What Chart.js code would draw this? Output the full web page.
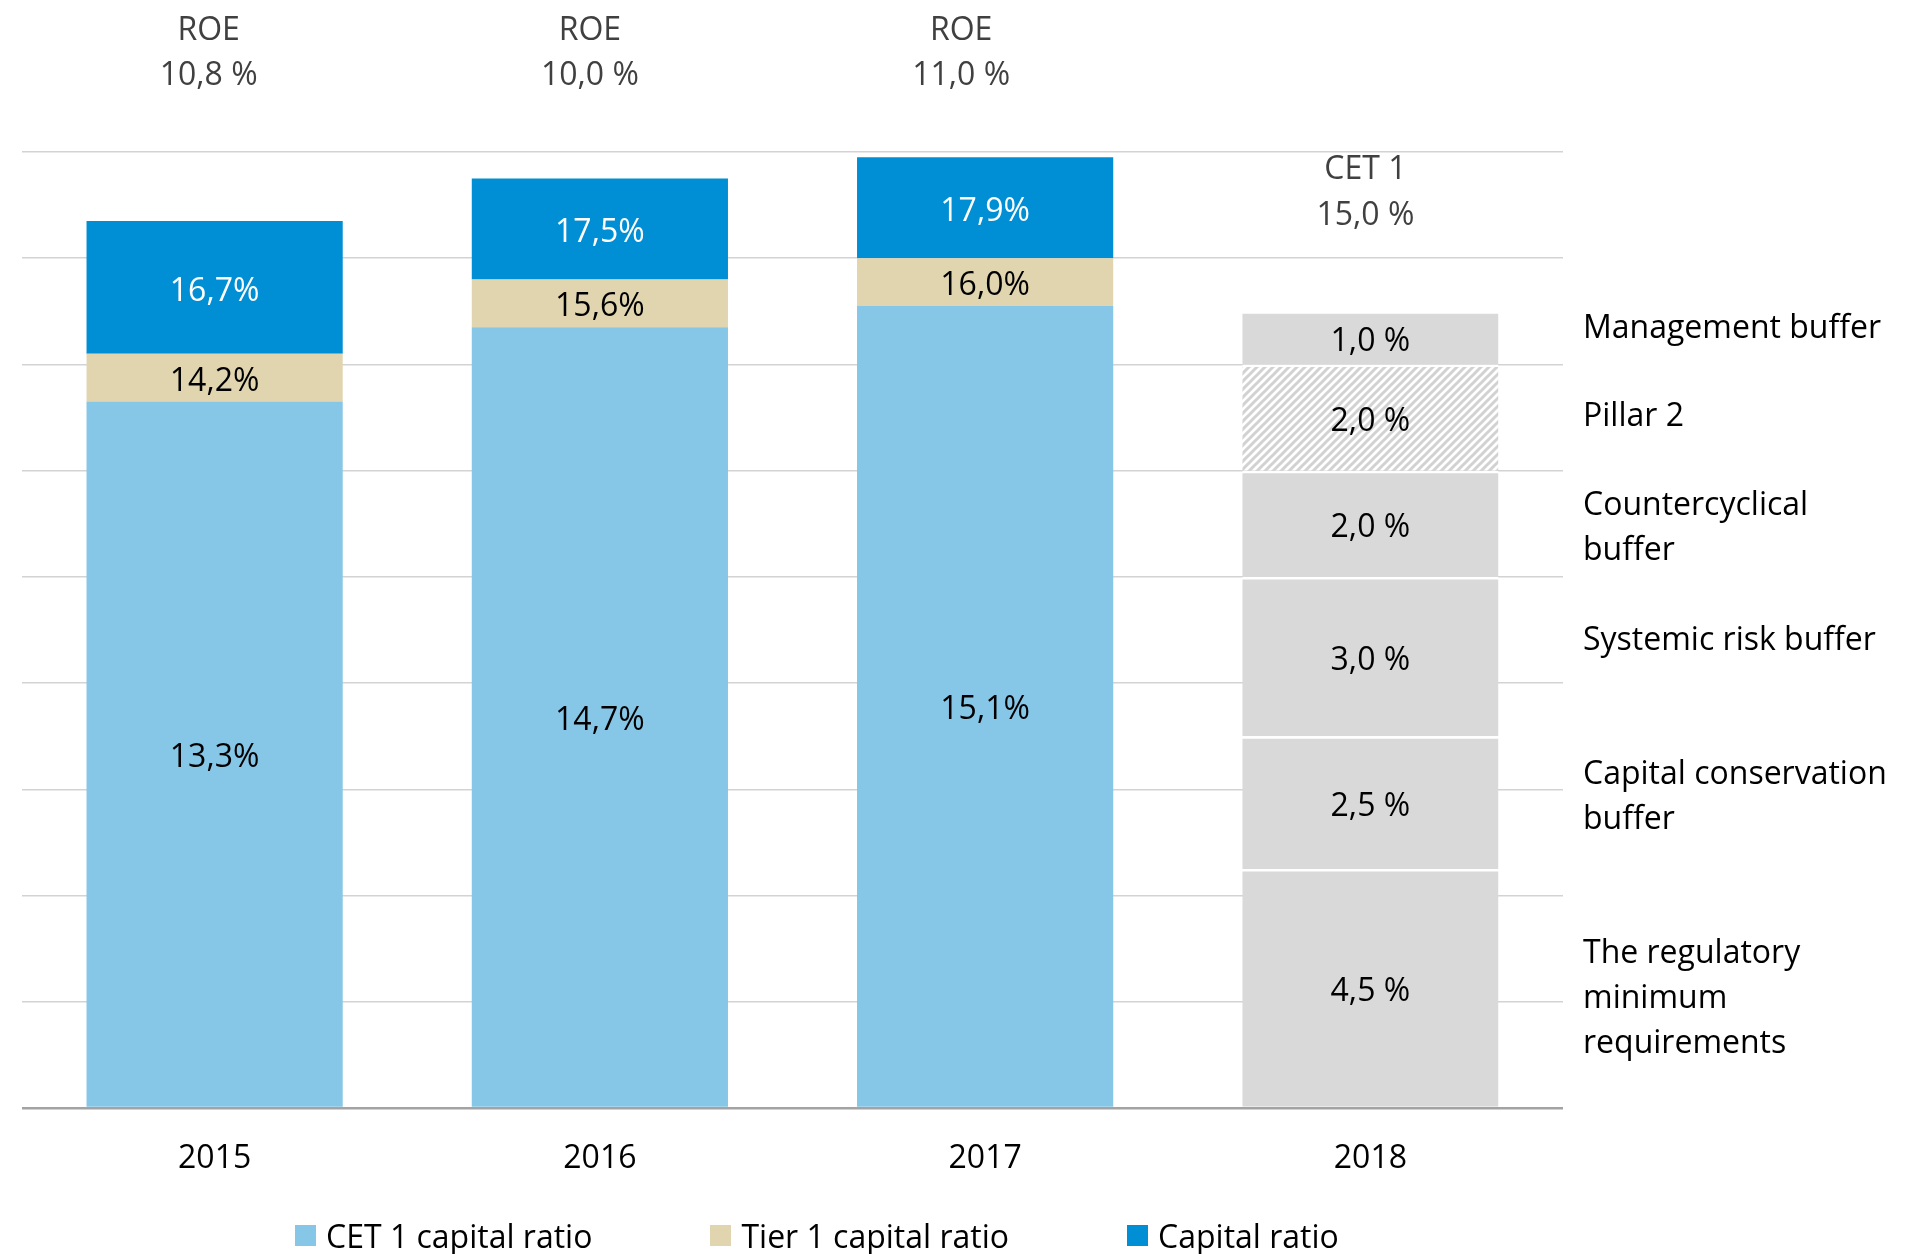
<!DOCTYPE html>
<html>
<head>
<meta charset="utf-8">
<script src="https://cdn.jsdelivr.net/npm/chart.js@4.4.1/dist/chart.umd.min.js"></script>
<style>
    body { margin: 0; background: #fff; }
    #wrap { position: relative; width: 1919px; height: 1254px; }
    #legend {
        position: absolute; left: 295px; top: 1214px;
        display: flex; gap: 118px;
        font-family: "Open Sans", sans-serif; font-size: 32px; color: #000;
    }
    .legend-item { display: flex; align-items: center; white-space: nowrap; }
    .legend-box { width: 21px; height: 21px; margin-right: 10px; }
</style>
</head>
<body>
<div id="wrap">
    <canvas id="chart" width="1919" height="1254"></canvas>
    <div id="legend"></div>
</div>
<script>
// 데이터
const years = ['2015', '2016', '2017', '2018'];
const cet1Ratio = [13.3, 14.7, 15.1, null];
const tier1Ratio = [14.2, 15.6, 16.0, null];
const capitalRatio = [16.7, 17.5, 17.9, null];
const roe = [10.8, 10.0, 11.0];
const cet1Target2018 = 15.0;

// 2018 요구 자본 (아래에서 위로)
const requirementValues = [4.5, 2.5, 3.0, 2.0, 2.0, 1.0];
const requirementNames = [
    ['The regulatory', 'minimum', 'requirements'],
    ['Capital conservation', 'buffer'],
    ['Systemic risk buffer'],
    ['Countercyclical', 'buffer'],
    ['Pillar 2'],
    ['Management buffer']
];
const hatchedRequirement = 'Pillar 2';

const yMax = 18;
const yStep = 2;

// 배치 보정값 (px)
const requirementLabelNudge = [7, -9, -20, 1, -5, -13];
const roeNudgeX = [-6, -10, -24];
const TEXT_DY = 4;

const FONT = '"Open Sans", sans-serif';
const COLORS = {
    cet1: '#86C6E6',
    tier1: '#E1D5B0',
    capital: '#008FD4',
    requirement: '#D9D9D9'
};

function fmt(v, space) {
    return v.toFixed(1).replace('.', ',') + (space ? ' %' : '%');
}

function makeHatch(ctx) {
    const c = document.createElement('canvas');
    c.width = 8;
    c.height = 8;
    const g = c.getContext('2d');
    g.fillStyle = '#fff';
    g.fillRect(0, 0, 8, 8);
    g.strokeStyle = '#D2D2D2';
    g.lineWidth = 3;
    g.beginPath();
    g.moveTo(-2, 10); g.lineTo(10, -2);
    g.moveTo(-2, 2); g.lineTo(2, -2);
    g.moveTo(6, 10); g.lineTo(10, 6);
    g.stroke();
    return ctx.createPattern(c, 'repeat');
}

const canvas = document.getElementById('chart');
const ctx = canvas.getContext('2d');
const hatch = makeHatch(ctx);

// 누적 막대 구간 계산
const tier1Part = tier1Ratio.map((v, i) => v == null ? null : +(v - cet1Ratio[i]).toFixed(1));
const capitalPart = capitalRatio.map((v, i) => v == null ? null : +(v - tier1Ratio[i]).toFixed(1));

const datasets = [
    { label: 'CET 1 capital ratio', data: cet1Ratio, shown: cet1Ratio, backgroundColor: COLORS.cet1, textColor: '#000', legend: true },
    { label: 'Tier 1 capital ratio', data: tier1Part, shown: tier1Ratio, backgroundColor: COLORS.tier1, textColor: '#000', legend: true },
    { label: 'Capital ratio', data: capitalPart, shown: capitalRatio, backgroundColor: COLORS.capital, textColor: '#fff', legend: true }
];

requirementValues.forEach((v, k) => {
    const data = years.map((y, i) => i === years.length - 1 ? v : null);
    datasets.push({
        label: requirementNames[k].join(' '),
        names: requirementNames[k],
        nudge: requirementLabelNudge[k],
        data: data,
        shown: data,
        spaced: true,
        backgroundColor: requirementNames[k][0] === hatchedRequirement ? hatch : COLORS.requirement,
        borderColor: '#fff',
        borderWidth: { top: 2.5, bottom: 0, left: 0, right: 0 },
        borderSkipped: false,
        textColor: '#000'
    });
});

datasets.forEach(ds => { ds.stack = 'all'; });

// 막대 안 값 표시 + 위/오른쪽 주석
const annotationPlugin = {
    id: 'annotations',
    afterDatasetsDraw(chart) {
        const c = chart.ctx;
        const area = chart.chartArea;
        const xScale = chart.scales.x;
        c.save();
        c.font = '32px ' + FONT;
        c.textAlign = 'center';
        c.textBaseline = 'middle';

        chart.data.datasets.forEach((ds, di) => {
            const meta = chart.getDatasetMeta(di);
            meta.data.forEach((bar, i) => {
                const v = ds.shown[i];
                if (v == null) return;
                const mid = (bar.y + bar.base) / 2 + TEXT_DY;
                c.fillStyle = ds.textColor;
                c.fillText(fmt(v, ds.spaced), bar.x, mid);

                // 오른쪽 설명
                if (ds.names) {
                    c.save();
                    c.textAlign = 'left';
                    c.fillStyle = '#000';
                    const lh = 45;
                    const cy = mid + ds.nudge - (ds.names.length - 1) * lh / 2;
                    ds.names.forEach((line, li) => {
                        c.fillText(line, area.right + 20, cy + li * lh);
                    });
                    c.restore();
                }
            });
        });

        // ROE 라벨
        c.fillStyle = '#404040';
        roe.forEach((v, i) => {
            const x = xScale.getPixelForValue(i) + roeNudgeX[i];
            c.fillText('ROE', x, area.top - 125 + TEXT_DY);
            c.fillText(fmt(v, true), x, area.top - 80 + TEXT_DY);
        });

        // 2018 CET 1 목표
        const x18 = xScale.getPixelForValue(years.length - 1) - 5;
        c.fillText('CET 1', x18, area.top + 14 + TEXT_DY);
        c.fillText(fmt(cet1Target2018, true), x18, area.top + 60 + TEXT_DY);
        c.restore();
    }
};

const chart = new Chart(ctx, {
    type: 'bar',
    data: { labels: years, datasets: datasets },
    options: {
        responsive: false,
        animation: false,
        devicePixelRatio: 1,
        layout: { padding: { left: 22, right: 356, top: 152, bottom: 0 } },
        datasets: {
            bar: { categoryPercentage: 1, barPercentage: 0.665 }
        },
        plugins: {
            legend: { display: false },
            tooltip: { enabled: false }
        },
        scales: {
            x: {
                stacked: true,
                grid: { display: false, drawTicks: false },
                border: { display: false },
                ticks: { color: '#000', font: { family: FONT, size: 32 }, padding: 32 },
                afterFit: s => { s.height = 146; }
            },
            y: {
                stacked: true,
                min: 0,
                max: yMax,
                ticks: { display: false, stepSize: yStep },
                border: { display: false },
                grid: {
                    drawTicks: false,
                    color: c => c.tick.value === 0 ? '#A3A3A3' : '#D3D3D3',
                    lineWidth: c => c.tick.value === 0 ? 2.5 : 1.5
                }
            }
        }
    },
    plugins: [annotationPlugin]
});

// HTML 범례
const legendEl = document.getElementById('legend');
legendEl.innerHTML = chart.data.datasets
    .filter(ds => ds.legend)
    .map(ds => `
        <div class="legend-item">
            <span class="legend-box" style="background:${ds.backgroundColor}"></span>
            <span>${ds.label}</span>
        </div>
    `).join('');
</script>
</body>
</html>
